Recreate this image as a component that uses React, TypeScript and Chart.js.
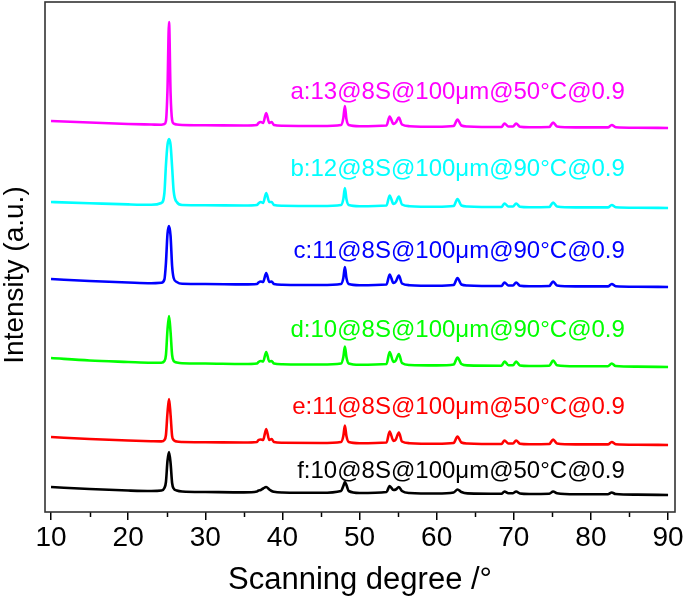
import React, { useEffect, useRef } from "react";
import { Chart, registerables } from "chart.js";

Chart.register(...registerables);

// 2θ sampling grid (degrees)
const angles = [
  10, 15, 20, 23,
  24.3, 24.7, 24.9, 25.1, 25.3, 25.5, 25.7, 25.9, 26.3,
  27, 30, 35,
  36.7, 36.9, 37.2, 37.5, 37.9, 38.3, 38.6, 38.9,
  40, 45,
  47.6, 47.9, 48.1, 48.3, 48.6,
  50,
  53.5, 53.9, 54.4, 54.7, 55.1, 55.5, 56.5,
  60,
  62.2, 62.7, 63.2, 64,
  68.4, 68.8, 69.3, 69.9, 70.3, 70.8, 72,
  74.6, 75.1, 75.6, 78,
  82.2, 82.7, 83.2, 86, 90,
];

const seriesNames = [
  "a:13@8S@100μm@50°C@0.9",
  "b:12@8S@100μm@90°C@0.9",
  "c:11@8S@100μm@90°C@0.9",
  "d:10@8S@100μm@90°C@0.9",
  "e:11@8S@100μm@50°C@0.9",
  "f:10@8S@100μm@50°C@0.9",
];
const seriesColors = ["#ff00ff", "#00ffff", "#0000ff", "#00ff00", "#ff0000", "#000000"];

// vertical stacking offsets (a.u.)
const offsets = [384, 304, 225, 145, 67, 17];

const intensityA = [
  7, 5.5, 4, 3.5,
  3.3, 4, 7, 38, 106, 35, 8, 4.5, 3.5,
  3, 2.8, 2.5,
  3, 5, 6, 5, 15, 5, 6, 3,
  2.2, 2,
  3, 10, 22, 9, 3,
  1.8,
  2.5, 11.5, 4, 5.5, 10.5, 3.5, 1.8,
  1.3,
  2, 8.5, 2.5, 1.5,
  1, 4.5, 1.5, 1.5, 4.5, 1.3, 0.8,
  1, 5.5, 1.5, 0.6,
  0.6, 3, 0.8, 0.3, 0,
];
const intensityB = [
  6, 4.8, 3.6, 3.2,
  5, 15, 43, 63, 69, 63, 41, 17, 6,
  3, 2.8, 2.5,
  3, 4.5, 6, 5, 15, 6, 6, 3,
  2.2, 2,
  3, 9, 20, 9, 3,
  1.8,
  2.5, 12.5, 4, 5.5, 11.5, 3.5, 1.8,
  1.3,
  2, 9, 2.5, 1.5,
  1, 4.5, 1.5, 1.5, 4.5, 1.3, 0.8,
  1, 5.5, 1.5, 0.6,
  0.6, 3, 0.8, 0.3, 0,
];
const intensityC = [
  8, 6, 4.5, 3.8,
  4.3, 7.5, 24, 53, 61, 51, 21, 9, 5,
  3.2, 3, 2.6,
  3, 4.5, 5.5, 5, 14, 5, 5.5, 3,
  2.3, 2,
  3, 9, 20, 9, 3,
  1.8,
  2.5, 12.5, 4, 5.5, 11.5, 3.5, 1.8,
  1.3,
  2, 9, 2.5, 1.5,
  1, 4.5, 1.5, 1.5, 4.5, 1.3, 0.8,
  1, 5.5, 1.5, 0.6,
  0.6, 3, 0.8, 0.3, 0,
];
const intensityD = [
  9, 6.5, 5, 4.2,
  4.2, 6, 12, 37, 51, 35, 12, 6, 4.5,
  3.8, 3.5, 3,
  3.5, 5, 6, 5.5, 15, 5.5, 6, 3.5,
  2.8, 2.5,
  3.5, 10, 20.5, 10, 3.5,
  2.2,
  3, 15, 5, 6.5, 13, 4, 2,
  1.6,
  2.5, 9.5, 3, 1.6,
  1.3, 5.5, 1.8, 1.8, 5.5, 1.5, 1,
  1.2, 6.5, 1.8, 0.7,
  0.8, 3.5, 1, 0.4, 0,
];
const intensityE = [
  8, 6, 4.5, 3.8,
  3.6, 5, 10, 32, 46, 30, 9, 5, 3.5,
  3, 2.8, 2.5,
  3, 5, 5.5, 5, 16, 5, 6, 3,
  2.3, 2,
  3, 9, 19.5, 9, 3,
  1.8,
  2.5, 13.5, 4, 5.5, 12.5, 3.5, 1.8,
  1.3,
  2, 8.5, 2.5, 1.5,
  1, 4.5, 1.5, 1.5, 4.5, 1.3, 0.8,
  1, 5.5, 1.5, 0.6,
  0.6, 3, 0.8, 0.3, 0,
];
const intensityF = [
  8, 6, 4.5, 4,
  4.5, 7, 13, 34, 43, 32, 12, 6.5, 4.5,
  3.5, 3, 2.6,
  3.5, 4.5, 5, 6.5, 8, 5.5, 4, 3.2,
  2.5, 2.2,
  4, 9, 13, 10, 4,
  2,
  3, 9, 5, 5.5, 8, 4, 2,
  1.5,
  2.5, 5.5, 3, 1.6,
  1.2, 3.5, 1.8, 1.8, 3.5, 1.5, 1,
  1.2, 3.5, 1.8, 0.7,
  0.8, 2.5, 1, 0.4, 0,
];
const intensities = [intensityA, intensityB, intensityC, intensityD, intensityE, intensityF];

const xTickValues = [10, 20, 30, 40, 50, 60, 70, 80, 90];
const xMinorTickValues = [15, 25, 35, 45, 55, 65, 75, 85];

// label anchor (right edge angle, vertical position in a.u.)
const labelAnchorX = 84.4;
const labelAnchorY = [420, 343, 261, 182, 105, 41];

const FONT = "'Liberation Sans', Arial, Helvetica, sans-serif";

const decorPlugin = {
  id: "decor",
  afterDraw(chart: any) {
    const { ctx, chartArea: a, scales } = chart;
    const x = scales.x;
    const y = scales.y;
    ctx.save();
    // minor ticks
    ctx.strokeStyle = "#000";
    ctx.lineWidth = 1.5;
    xMinorTickValues.forEach((v) => {
      const px = Math.round(x.getPixelForValue(v)) + 0.5;
      ctx.beginPath();
      ctx.moveTo(px, a.bottom);
      ctx.lineTo(px, a.bottom + 5);
      ctx.stroke();
    });
    // frame
    ctx.strokeStyle = "#333";
    ctx.lineWidth = 1.6;
    ctx.strokeRect(a.left, a.top, a.right - a.left, a.bottom - a.top);
    // series labels
    ctx.font = `24px ${FONT}`;
    ctx.textAlign = "right";
    ctx.textBaseline = "middle";
    seriesNames.forEach((t, i) => {
      ctx.fillStyle = seriesColors[i];
      ctx.fillText(t, x.getPixelForValue(labelAnchorX), y.getPixelForValue(labelAnchorY[i]));
    });
    // y title
    ctx.translate(15, 275);
    ctx.rotate(-Math.PI / 2);
    ctx.textAlign = "center";
    ctx.fillStyle = "#000";
    ctx.font = `28px ${FONT}`;
    ctx.fillText("Intensity (a.u.)", 0, 0);
    ctx.restore();
  },
};

export default function App() {
  const canvasRef = useRef<HTMLCanvasElement | null>(null);

  useEffect(() => {
    if (!canvasRef.current) return;
    const datasets = seriesNames.map((name, si) => ({
      label: name,
      data: angles.map((ang, i) => ({ x: ang, y: offsets[si] + intensities[si][i] })),
      borderColor: seriesColors[si],
      backgroundColor: seriesColors[si],
      borderWidth: 2.6,
      pointRadius: 0,
      cubicInterpolationMode: "monotone" as const,
      fill: false,
    }));
    const chart = new Chart(canvasRef.current, {
      type: "line",
      data: { datasets },
      plugins: [decorPlugin],
      options: {
        animation: false,
        responsive: false,
        devicePixelRatio: 1,
        layout: { padding: { top: 2, right: 10, left: 0, bottom: 0 } },
        plugins: { legend: { display: false }, tooltip: { enabled: false } },
        scales: {
          x: {
            type: "linear",
            min: 9.22,
            max: 90.9,
            afterBuildTicks: (scale: any) => {
              scale.ticks = xTickValues.map((v) => ({ value: v }));
            },
            afterFit: (scale: any) => {
              scale.height = 91;
            },
            ticks: {
              autoSkip: false,
              maxRotation: 0,
              padding: 1,
              color: "#000",
              font: { family: FONT, size: 28 },
              includeBounds: false,
            },
            grid: {
              drawOnChartArea: false,
              tickLength: 8,
              color: "#000",
              lineWidth: 1.5,
            },
            border: { display: false },
            title: {
              display: true,
              text: "Scanning degree /°",
              color: "#000",
              font: { family: FONT, size: 31 },
              padding: { top: 0, bottom: 4 },
            },
          },
          y: {
            type: "linear",
            min: 0,
            max: 510,
            afterFit: (scale: any) => {
              scale.width = 45;
            },
            ticks: { display: false },
            grid: { display: false },
            border: { display: false },
          },
        },
      },
    });
    return () => chart.destroy();
  }, []);

  return (
    <div style={{ position: "fixed", left: 0, top: 0, width: 685, height: 603, background: "#fff" }}>
      <canvas ref={canvasRef} width={685} height={603} />
    </div>
  );
}
